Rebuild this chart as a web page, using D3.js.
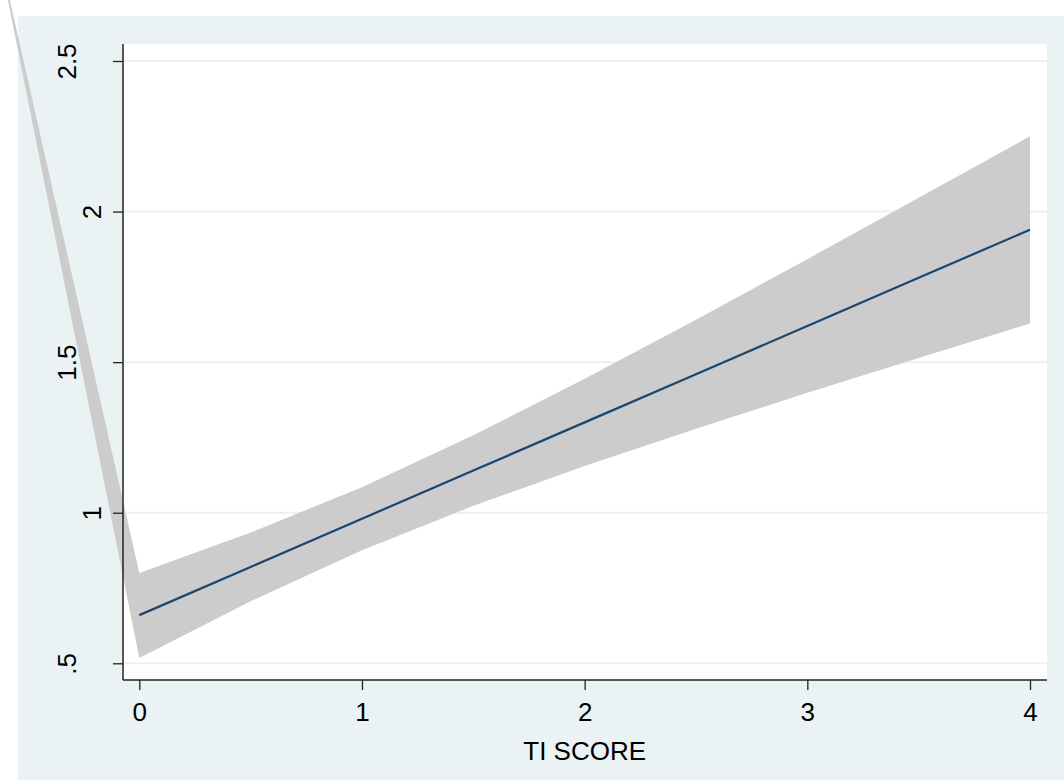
<!DOCTYPE html>
<html>
<head>
<meta charset="utf-8">
<script src="https://cdn.jsdelivr.net/npm/d3@7"></script>
<style>
    body { margin: 0; background: #fff; }
    text { font-family: "Liberation Sans", Arial, Helvetica, sans-serif; }
</style>
</head>
<body>
<div id="chart"></div>
<script>
// fitted line (TI SCORE -> prediction)
const fitX = [0, 0.5, 1, 1.5, 2, 2.5, 3, 3.5, 4];
const fitY = [0.66, 0.82, 0.98, 1.14, 1.30, 1.46, 1.62, 1.78, 1.94];

// confidence band, first point lies outside the plot on the left
const ciX     = [-0.654, 0, 0.5, 1, 1.5, 2, 2.5, 3, 3.5, 4];
const ciUpper = [2.94, 0.80, 0.934, 1.085, 1.257, 1.445, 1.641, 1.842, 2.046, 2.25];
const ciLower = [2.94, 0.518, 0.706, 0.875, 1.023, 1.155, 1.279, 1.398, 1.514, 1.628];

const xTicks = [0, 1, 2, 3, 4];
const yTicks = [0.5, 1, 1.5, 2, 2.5];
const yTickLabels = [".5", "1", "1.5", "2", "2.5"];
const xTitle = "TI SCORE";

const width = 1064, height = 780;
// plot region in pixels
const plotLeft = 123, plotRight = 1047, plotTop = 44, plotBottom = 680;

const x = d3.scaleLinear().domain([0, 4]).range([139.3, 1030]);
const y = d3.scaleLinear().domain([0.5, 2.5]).range([663.3, 61]);

const svg = d3.select("#chart").append("svg")
    .attr("width", width)
    .attr("height", height);

// graph region background
svg.append("rect")
    .attr("x", 18).attr("y", 16)
    .attr("width", width - 18).attr("height", height - 16)
    .attr("fill", "#eaf2f3");

// plot region
svg.append("rect")
    .attr("x", plotLeft).attr("y", plotTop)
    .attr("width", plotRight - plotLeft).attr("height", plotBottom - plotTop)
    .attr("fill", "#fff");

// horizontal grid lines
svg.append("g")
    .selectAll("line")
    .data(yTicks)
    .join("line")
    .attr("x1", plotLeft).attr("x2", plotRight)
    .attr("y1", d => y(d)).attr("y2", d => y(d))
    .attr("stroke", "#eaf2f3")
    .attr("stroke-width", 2);

// band (not clipped, like the original)
const band = d3.area()
    .x((d, i) => x(ciX[i]))
    .y0((d, i) => y(ciLower[i]))
    .y1((d, i) => y(ciUpper[i]));

svg.append("path")
    .datum(ciX)
    .attr("d", band)
    .attr("fill", "#cccccc");

// fitted line
const line = d3.line()
    .x((d, i) => x(fitX[i]))
    .y((d, i) => y(fitY[i]));

svg.append("path")
    .datum(fitX)
    .attr("d", line)
    .attr("fill", "none")
    .attr("stroke", "#1a476f")
    .attr("stroke-width", 2.2);

// y axis
const yAxis = svg.append("g")
    .attr("transform", `translate(${plotLeft},0)`)
    .call(d3.axisLeft(y).tickValues(yTicks).tickSize(10).tickSizeOuter(0)
        .tickFormat((d, i) => yTickLabels[i]));
yAxis.select(".domain").remove();
yAxis.selectAll(".tick line").attr("stroke", "#222").attr("stroke-width", 1.3);
yAxis.selectAll(".tick text")
    .attr("x", null).attr("dy", null)
    .attr("text-anchor", "middle")
    .attr("fill", "#000")
    .style("font-size", "26px")
    .attr("transform", d => {
        const t = yTickLabels[yTicks.indexOf(d)];
        const bx = (t.length === 1 ? 101 : 76) - plotLeft;
        return `translate(${bx},0) rotate(-90)`;
    });

svg.append("line")
    .attr("x1", plotLeft).attr("x2", plotLeft)
    .attr("y1", plotTop).attr("y2", plotBottom)
    .attr("stroke", "#222").attr("stroke-width", 1.5);

// x axis
const xAxis = svg.append("g")
    .attr("transform", `translate(0,${plotBottom})`)
    .call(d3.axisBottom(x).tickValues(xTicks).tickSize(10).tickSizeOuter(0)
        .tickPadding(13).tickFormat(d3.format("d")));
xAxis.select(".domain").remove();
xAxis.selectAll(".tick line").attr("stroke", "#222").attr("stroke-width", 1.3);
xAxis.selectAll(".tick text")
    .attr("fill", "#000")
    .style("font-size", "26px");

svg.append("line")
    .attr("x1", plotLeft).attr("x2", plotRight)
    .attr("y1", plotBottom).attr("y2", plotBottom)
    .attr("stroke", "#222").attr("stroke-width", 1.5);

svg.append("text")
    .attr("x", x(2)).attr("y", 760)
    .attr("text-anchor", "middle")
    .style("font-size", "26px")
    .text(xTitle);
</script>
</body>
</html>
